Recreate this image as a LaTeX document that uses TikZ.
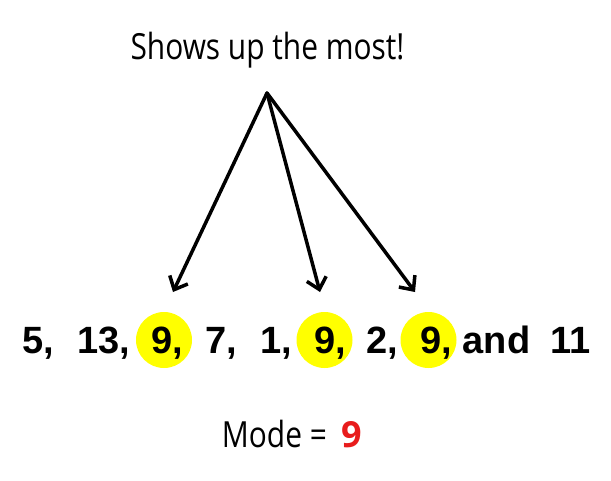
\documentclass[tikz,border=0pt]{standalone}
\usepackage{fontspec}
\setmainfont{Liberation Sans}
\newfontfamily\handfont{Open Sans}
\usetikzlibrary{arrows.meta}
\definecolor{marker}{RGB}{255,255,0}
\definecolor{modered}{RGB}{232,28,28}
\newcommand\narrow[1]{\scalebox{0.83}[1]{#1}}

\begin{document}
\begin{tikzpicture}[x=1pt,y=-1pt,
  spot/.style={circle,fill=marker,minimum size=56pt,inner sep=0pt},
  num/.style={anchor=base,inner sep=0pt,font=\fontsize{38}{38}\selectfont\bfseries},
  hand/.style={anchor=base,inner sep=0pt,font=\handfont\fontsize{36}{36}\selectfont},
  pointer/.style={line width=3.5pt,line cap=round,-{Straight Barb[length=11pt,width=20pt]}}]
\useasboundingbox (0,0) rectangle (611,480);

\node [hand] (title) at (267.5,59) {\narrow{Shows up the most!}};
\coordinate (apex) at (267,93);

\node [spot] (spota) at (164,340) {};
\node [spot] (spotb) at (324.5,340) {};
\node [spot] (spotc) at (428.5,340) {};

\node [num] (five) at (38,353) {5,};
\node [num] (thirteen) at (103.5,353) {13,};
\node [num] (ninea) at (167.5,353) {9,};
\node [num] (seven) at (221.5,353) {7,};
\node [num] (one) at (276,353) {1,};
\node [num] (nineb) at (330,353) {9,};
\node [num] (two) at (382,353) {2,};
\node [num] (ninec) at (436.5,353) {9,};
\node [num] (and) at (496.5,353) {and};
\node [num] (eleven) at (571,353) {11};

\coordinate (tipa) at (173,292);
\coordinate (tipb) at (320,292);
\coordinate (tipc) at (415,292);
\draw [pointer] (apex) -- (tipa);
\draw [pointer] (apex) -- (tipb);
\draw [pointer] (apex) -- (tipc);

\node [hand] (mode) at (262,447) {\narrow{Mode}};
\node [hand] (equals) at (318.5,447) {\narrow{=}};
\node [hand,text=modered,font=\handfont\fontsize{36}{36}\selectfont\bfseries] (value) at (351.5,447) {9};
\end{tikzpicture}
\end{document}
